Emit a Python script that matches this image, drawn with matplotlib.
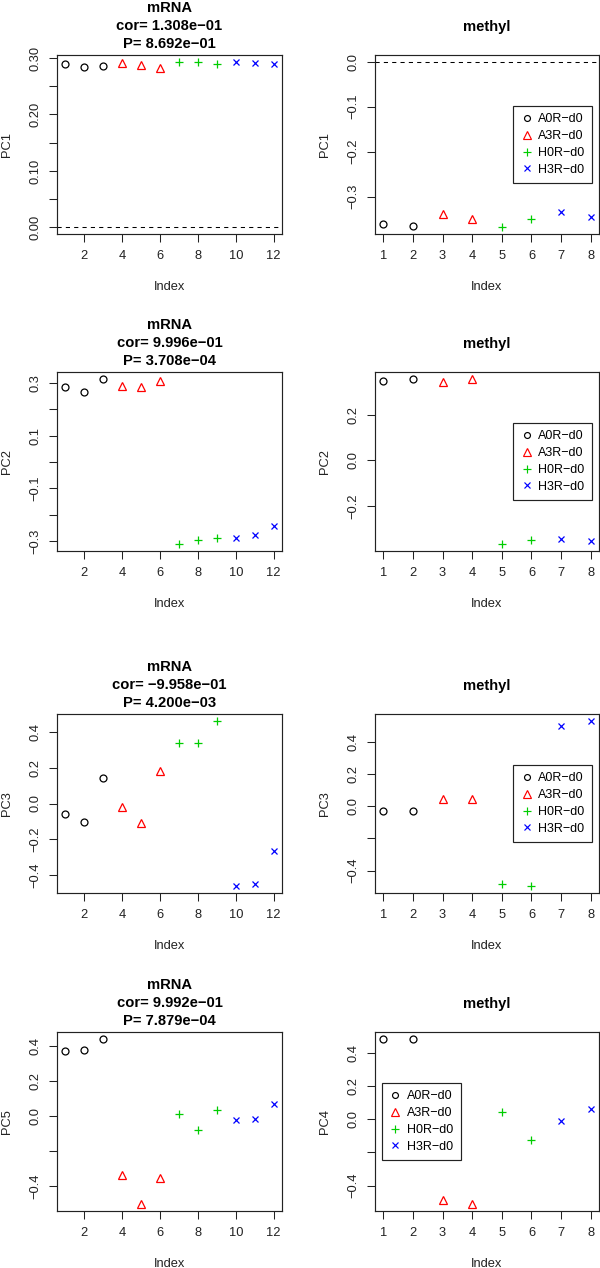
import matplotlib
matplotlib.use("Agg")
import matplotlib.pyplot as plt
from matplotlib.lines import Line2D
import numpy as np

plt.rcParams['font.family'] = ['Liberation Sans', 'DejaVu Sans']

# ---------------- data ----------------
groups = ["A0R\u2212d0", "A3R\u2212d0", "H0R\u2212d0", "H3R\u2212d0"]
group_colors = ["black", "#FF0000", "#00CD00", "#0000FF"]
group_markers = ["o", "^", "+", "x"]

mrna_groups = [0, 0, 0, 1, 1, 1, 2, 2, 2, 3, 3, 3]
methyl_groups = [0, 0, 1, 1, 2, 2, 3, 3]

mrna_pc1 = [0.2888, 0.2846, 0.2852, 0.2905, 0.2870, 0.2828,
            0.2929, 0.2929, 0.2900, 0.2935, 0.2910, 0.2893]
methyl_pc1 = [-0.360, -0.364, -0.338, -0.350, -0.368, -0.350, -0.334, -0.344]

mrna_pc2 = [0.285, 0.266, 0.317, 0.290, 0.284, 0.307,
            -0.313, -0.298, -0.288, -0.289, -0.277, -0.244]
methyl_pc2 = [0.350, 0.356, 0.343, 0.359, -0.368, -0.349, -0.343, -0.353]

mrna_pc3 = [-0.056, -0.102, 0.141, -0.019, -0.108, 0.179,
            0.335, 0.339, 0.461, -0.461, -0.450, -0.266]
methyl_pc3 = [-0.031, -0.027, 0.043, 0.045, -0.480, -0.497, 0.497, 0.530]

mrna_pc5 = [0.371, 0.381, 0.444, -0.336, -0.506, -0.352,
            0.012, -0.077, 0.037, -0.021, -0.019, 0.071]
methyl_pc4 = [0.485, 0.487, -0.485, -0.513, 0.044, -0.125, -0.010, 0.061]

mrna_titles = ["mRNA\ncor= 1.308e\u221201\nP= 8.692e\u221201",
               "mRNA\ncor= 9.996e\u221201\nP= 3.708e\u221204",
               "mRNA\ncor= \u22129.958e\u221201\nP= 4.200e\u221203",
               "mRNA\ncor= 9.992e\u221201\nP= 7.879e\u221204"]
methyl_title = "methyl"

mrna_ylabels = ["PC1", "PC2", "PC3", "PC5"]
methyl_ylabels = ["PC1", "PC2", "PC3", "PC4"]

mrna_xticks = [2, 4, 6, 8, 10, 12]
methyl_xticks = [1, 2, 3, 4, 5, 6, 7, 8]

# (tick values, labels) per panel
mrna_yticks = [
    ([0.0, 0.05, 0.10, 0.15, 0.20, 0.25, 0.30],
     ["0.00", "", "0.10", "", "0.20", "", "0.30"]),
    ([-0.3, -0.2, -0.1, 0.0, 0.1, 0.2, 0.3],
     ["\u22120.3", "", "\u22120.1", "", "0.1", "", "0.3"]),
    ([-0.4, -0.2, 0.0, 0.2, 0.4],
     ["\u22120.4", "\u22120.2", "0.0", "0.2", "0.4"]),
    ([-0.4, -0.2, 0.0, 0.2, 0.4],
     ["\u22120.4", "", "0.0", "0.2", "0.4"]),
]
methyl_yticks = [
    ([-0.3, -0.2, -0.1, 0.0],
     ["\u22120.3", "\u22120.2", "\u22120.1", "0.0"]),
    ([-0.2, 0.0, 0.2],
     ["\u22120.2", "0.0", "0.2"]),
    ([-0.4, -0.2, 0.0, 0.2, 0.4],
     ["\u22120.4", "", "0.0", "0.2", "0.4"]),
    ([-0.4, -0.2, 0.0, 0.2, 0.4],
     ["\u22120.4", "", "0.0", "0.2", "0.4"]),
]

mrna_values = [mrna_pc1, mrna_pc2, mrna_pc3, mrna_pc5]
methyl_values = [methyl_pc1, methyl_pc2, methyl_pc3, methyl_pc4]
include_zero = [True, False, False, False]
legend_loc = ["center right", "center right", "center right", "center left"]

# ---------------- layout ----------------
W, H = 600, 1268
fig = plt.figure(figsize=(W / 100, H / 100), dpi=100)

row_top = [55, 372, 714, 1032]
ax_h = 179
col_x = [(57, 225), (375, 224)]

TICK_FS = 9.3
LEG_FS = 9.0
TITLE_FS = 10.6
marker_sizes = {"o": 5.0, "^": 6.0, "+": 6.4, "x": 4.8}


def px_rect(x, y, w, h):
    return [x / W, (H - y - h) / H, w / W, h / H]


def draw_panel(ax, values, grp, xticks, yticks, ylabel, incl0, x0, w, top):
    vals = np.array(values)
    idx = np.arange(1, len(vals) + 1)
    for g in range(4):
        sel = np.array(grp) == g
        m = group_markers[g]
        ax.plot(idx[sel], vals[sel], linestyle="none", marker=m,
                markersize=marker_sizes[m], markerfacecolor="none",
                markeredgecolor=group_colors[g], markeredgewidth=0.9)
    lo, hi = vals.min(), vals.max()
    if incl0:
        lo, hi = min(lo, 0.0), max(hi, 0.0)
        ax.axhline(0, color="black", lw=0.75, linestyle=(0, (4, 4)))
    r = hi - lo
    ax.set_ylim(lo - 0.04 * r, hi + 0.04 * r)
    n = len(vals)
    ax.set_xlim(1 - 0.04 * (n - 1), n + 0.04 * (n - 1))
    ax.set_xticks(xticks)
    ax.set_xticklabels([str(t) for t in xticks])
    ax.set_yticks(yticks[0])
    ax.set_yticklabels(yticks[1])
    for lab in ax.get_yticklabels():
        lab.set_rotation(90)
        lab.set_va("center")
    ax.tick_params(length=5.5, width=0.75, labelsize=TICK_FS, pad=6,
                   color="#222222", labelcolor="#222222")
    for s in ax.spines.values():
        s.set_linewidth(0.85)
        s.set_color("#222222")
    # axis labels
    fig.text((x0 - 50) / W, 1 - (top + ax_h / 2) / H, ylabel, rotation=90,
             ha="center", va="center", fontsize=TICK_FS, color="#222222")
    fig.text((x0 + w / 2) / W, 1 - (top + ax_h + 53) / H, "Index",
             ha="center", va="center", fontsize=TICK_FS, color="#222222")


legend_handles = [Line2D([], [], linestyle="none", marker=group_markers[g],
                         markersize=marker_sizes[group_markers[g]] * 0.85,
                         markerfacecolor="none",
                         markeredgecolor=group_colors[g], markeredgewidth=0.85)
                  for g in range(4)]

for r in range(4):
    top = row_top[r]
    # mRNA panel
    x0, w = col_x[0]
    ax = fig.add_axes(px_rect(x0, top, w, ax_h))
    draw_panel(ax, mrna_values[r], mrna_groups, mrna_xticks, mrna_yticks[r],
               mrna_ylabels[r], include_zero[r], x0, w, top)
    lines = mrna_titles[r].split("\n")
    for k, line in enumerate(lines):
        base = top - 7 - 18 * (len(lines) - 1 - k)
        fig.text((x0 + w / 2) / W, 1 - base / H, line, ha="center",
                 va="baseline", fontsize=TITLE_FS, fontweight="bold")
    # methyl panel
    x0, w = col_x[1]
    ax = fig.add_axes(px_rect(x0, top, w, ax_h))
    draw_panel(ax, methyl_values[r], methyl_groups, methyl_xticks,
               methyl_yticks[r], methyl_ylabels[r], include_zero[r], x0, w, top)
    fig.text((x0 + w / 2) / W, 1 - (top - 24) / H, methyl_title, ha="center",
             va="baseline", fontsize=TITLE_FS, fontweight="bold")
    leg = ax.legend(legend_handles, groups, loc=legend_loc[r],
                    fontsize=LEG_FS, frameon=True, fancybox=False,
                    handlelength=0.9, handletextpad=0.5, labelspacing=0.38,
                    borderpad=0.6, borderaxespad=0.55, framealpha=1)
    leg.get_frame().set_edgecolor("#222222")
    leg.get_frame().set_linewidth(0.85)

fig.savefig("out.png", dpi=100, facecolor="white")
